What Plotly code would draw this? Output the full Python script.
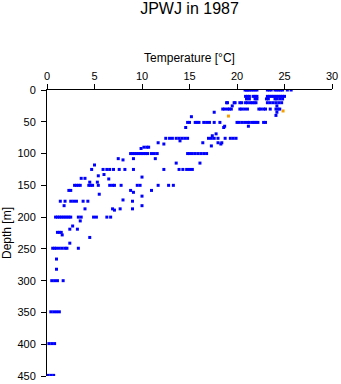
import plotly.graph_objects as go

# Blue profile samples: depth [m] and temperature [°C]
blue_depth_levels = {
    0: [20.85, 21.0, 21.15, 21.3, 21.5, 21.7, 21.9, 22.1, 23.2, 23.4, 23.6, 24.0, 24.2, 24.4, 24.6, 24.8, 25.3, 25.7],
    10: [20.9, 21.1, 21.3, 21.7, 21.9, 22.1, 23.2, 23.4, 23.6, 23.8, 24.0, 24.2, 24.4, 24.6, 24.8, 25.0],
    14: [21.0, 21.3, 21.9, 22.1, 23.1, 23.3, 24.0, 24.2, 24.5, 24.8],
    20: [18.9, 19.0, 19.7, 19.8, 20.3, 20.5, 20.9, 21.1, 21.4, 21.6, 21.8, 22.0, 23.2, 23.5, 23.8, 24.1, 24.4, 24.7],
    25: [19.5, 24.2],
    30: [18.5, 18.7, 19.0, 19.2, 19.4, 20.3, 20.5, 20.8, 21.1, 22.3, 22.5, 22.8, 23.0, 23.5, 24.1, 24.3, 24.5],
    35: [17.6, 24.2],
    40: [24.1],
    42: [15.2],
    51: [14.8, 15.0, 15.6, 15.8, 16.0, 16.5, 16.8, 17.1, 17.6, 18.2, 20.0, 20.2, 20.5, 20.8, 21.1, 21.3, 21.6, 21.8, 22.0, 22.2, 22.8, 23.0],
    57: [18.7, 21.2],
    59: [14.6, 18.6],
    69: [17.8],
    72: [17.4],
    76: [12.5, 12.9, 13.2, 13.6, 13.9, 14.2, 14.5, 14.8, 17.0, 17.3, 17.6, 18.0, 18.75, 19.3, 19.6, 19.9],
    80: [14.0],
    83: [11.7, 16.4, 18.0, 18.4],
    85: [12.3, 18.3],
    88: [17.3],
    90: [10.2, 10.5, 10.7],
    92: [9.9],
    100: [8.8, 9.0, 9.2, 9.4, 9.6, 9.8, 10.0, 10.2, 10.4, 10.6, 11.0, 11.3, 11.6, 14.8, 15.0, 15.3, 15.6, 15.9, 16.2, 16.5, 16.8],
    108: [7.5, 9.1, 11.4],
    110: [8.0],
    115: [13.6, 16.1],
    118: [5.0],
    125: [4.7, 5.9, 6.3, 6.6, 7.0, 7.6, 8.2, 9.1, 12.3, 13.9, 14.3, 14.7, 15.0, 15.3],
    133: [6.0],
    135: [5.4],
    137: [10.0],
    139: [3.6, 4.0],
    140: [6.5],
    145: [4.5, 5.3],
    150: [2.9, 3.1, 3.3, 3.5, 4.4, 4.6, 4.8, 5.4, 6.6, 6.9, 7.1, 7.8, 9.5, 9.8, 11.7, 12.8, 13.3],
    158: [2.3, 2.5, 8.8, 11.0],
    161: [9.1],
    164: [5.5],
    167: [10.0],
    173: [8.0],
    175: [1.4, 1.9, 2.5, 2.8, 3.1, 3.8, 4.3, 9.0],
    182: [1.8, 10.0],
    187: [4.0, 6.9, 7.7, 9.0],
    189: [7.1],
    200: [0.9, 1.1, 1.3, 1.5, 1.7, 1.9, 2.1, 2.3, 2.5, 3.3, 3.6, 4.9, 5.2, 6.3, 6.7],
    206: [3.5],
    214: [2.7],
    219: [2.4, 3.2],
    224: [1.1, 1.3, 1.5],
    228: [1.6],
    232: [4.5],
    241: [2.4],
    249: [0.6, 0.8, 1.0, 1.3, 1.6, 1.9, 2.1, 3.3],
    266: [1.0],
    282: [1.0],
    300: [0.5, 0.8, 1.1, 1.7],
    349: [0.4, 0.7, 1.0, 1.3],
    399: [0.2, 0.5, 0.8],
    449: [0.1, 0.4, 0.7],
}

orange_depth = [33, 41]
orange_temp = [24.85, 19.1]

x_ticks = [0, 5, 10, 15, 20, 25, 30]
y_ticks = [0, 50, 100, 150, 200, 250, 300, 350, 400, 450]

blue_depth = []
blue_temp = []
for d, temps in blue_depth_levels.items():
    for t in temps:
        blue_depth.append(d)
        blue_temp.append(t)

FONT = "Liberation Sans, Arial, Helvetica, sans-serif"

fig = go.Figure()
fig.add_trace(go.Scatter(
    x=blue_temp, y=blue_depth, mode="markers",
    marker=dict(symbol="square", size=3, color="#0000ff", line=dict(width=0)),
    showlegend=False, hoverinfo="skip",
))
fig.add_trace(go.Scatter(
    x=orange_temp, y=orange_depth, mode="markers",
    marker=dict(symbol="square", size=3, color="#f5a000", line=dict(width=0)),
    showlegend=False, hoverinfo="skip",
))

fig.update_layout(
    width=341, height=384,
    margin=dict(l=47, r=9, t=90, b=8, autoexpand=False),
    paper_bgcolor="white", plot_bgcolor="white",
    font=dict(family=FONT, size=11, color="black"),
    title=dict(text="JPWJ in 1987", font=dict(family=FONT, size=16, color="black"),
               xref="paper", x=0.5, xanchor="center",
               yref="container", y=0.992, yanchor="top"),
    xaxis=dict(
        side="top", range=[0, 30], tickvals=x_ticks,
        ticks="outside", ticklen=5, tickwidth=1, tickcolor="black",
        showline=True, linecolor="black", linewidth=1,
        showgrid=False, zeroline=False, automargin=False,
        tickfont=dict(size=11),
        title=dict(text="Temperature [°C]", font=dict(size=12), standoff=4),
    ),
    yaxis=dict(
        range=[450, 0], tickvals=y_ticks,
        ticks="outside", ticklen=5, tickwidth=1, tickcolor="black",
        showline=True, linecolor="black", linewidth=1,
        showgrid=False, zeroline=False, automargin=False,
        tickfont=dict(size=11), ticklabelstandoff=3,
        title=dict(text="Depth [m]", font=dict(size=12), standoff=4),
    ),
)

fig.write_html("out.html")
